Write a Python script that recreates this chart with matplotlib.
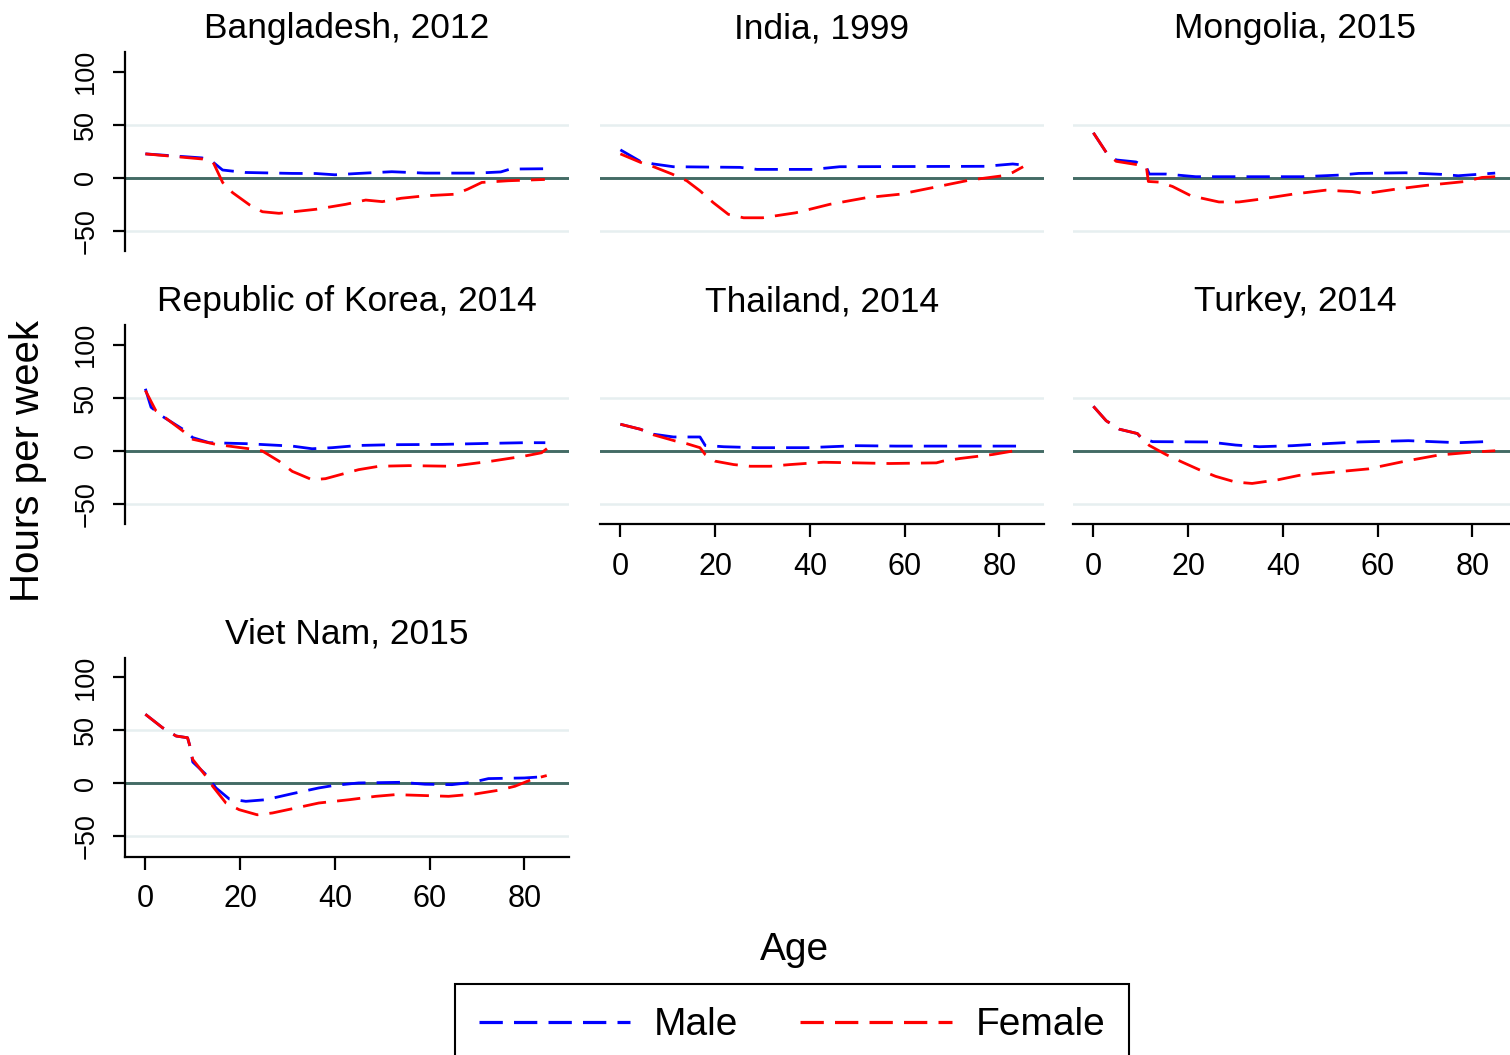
import matplotlib
matplotlib.use("Agg")
import matplotlib.pyplot as plt
from matplotlib.lines import Line2D

plt.rcParams['font.family'] = ['Liberation Sans', 'DejaVu Sans']

# ages / hours per week, one pair of lists per series
bgd_m_age = [0, 12, 14.3, 16.3, 21, 31, 36, 40, 45, 52, 59, 70, 75, 77, 84.3]
bgd_m = [22.5, 18.7, 14.6, 7.3, 5, 4.1, 4, 2.8, 4.1, 5.7, 4.4, 4.4, 5.5, 8.2, 8.5]
bgd_f_age = [0, 12, 14.3, 15, 16.3, 18.4, 22, 24.7, 28.2, 36, 42.3, 46.5, 50, 54, 59, 65.4, 68, 71, 76.6, 84.3]
bgd_f = [22.5, 17.7, 14.6, 8, -4.4, -14, -25.6, -32, -33.5, -29.7, -25, -21, -22.5, -19.3, -17, -15.5, -10.8, -4.4, -2.8, -1.6]

ind_m_age = [0, 4.2, 7, 11.2, 25.3, 28.8, 40.7, 46.3, 77, 82.8, 85]
ind_m = [26.3, 15.5, 13, 10.4, 9.8, 7.9, 7.9, 10.4, 10.8, 13, 12]
ind_f_age = [0, 4.2, 7, 10.9, 14, 16.8, 19.6, 22.8, 26, 30, 37, 44.2, 52, 59, 66, 73.7, 80.7, 82.8, 85]
ind_f = [22.5, 14.6, 10.4, 3.5, -2.8, -12.3, -23.4, -34.5, -37.7, -37.7, -33, -25, -18.7, -15.5, -9.2, -2.2, 1.9, 5, 10.4]

mng_m_age = [0, 2.7, 4.8, 9, 11.2, 11.8, 15.3, 21.6, 44, 51.8, 56, 65.8, 73.5, 77, 84.8]
mng_m = [42.4, 24, 16.8, 14.9, 9.8, 3.5, 3.5, 1, 1, 2.5, 4.1, 4.7, 3.2, 1.9, 4.4]
mng_f_age = [0, 2.7, 4.8, 9.3, 11.2, 11.6, 13.9, 16.7, 20.6, 26.5, 30.7, 35, 42, 49, 54.6, 57.4, 63.7, 70, 78.5, 82, 84.8]
mng_f = [42.4, 24, 15.5, 12.3, 9.8, -3.5, -4.1, -8.2, -17, -22.8, -22.8, -20.3, -15.5, -11.7, -13, -14.9, -10.8, -7.3, -3.5, 0.3, 1]

kor_m_age = [0, 1.2, 3.6, 7.9, 10, 13.5, 21.2, 31, 35.2, 39.4, 45, 52, 62.6, 73, 80, 84.4]
kor_m = [58.4, 41, 32.4, 20.3, 12.4, 7.6, 6.7, 4.4, 1.9, 2.9, 5, 5.7, 6, 7, 7.6, 7.6]
kor_f_age = [0, 2.2, 7.9, 10, 14.9, 21.9, 24.7, 28.2, 31, 35.2, 38, 45, 49.3, 55.6, 64.7, 73, 80, 83.6, 85]
kor_f = [56.8, 37.8, 18.7, 10.8, 6, 1.9, -0.3, -9.8, -19.4, -27.3, -26.3, -17.8, -14.6, -14, -14.6, -9.8, -5, -1.9, 2.9]

tha_m_age = [0, 4.2, 7, 11.2, 16.8, 17.9, 21.8, 28.8, 39.3, 49.8, 58.2, 83.5, 84.2]
tha_m = [25, 20.3, 15.6, 13, 13, 5, 3.8, 2.9, 2.9, 4.8, 4.4, 4.4, 5]
tha_f_age = [0, 4.2, 7, 11.6, 14, 16.8, 17.9, 20, 23.9, 27.4, 31.6, 35.8, 42.8, 56.8, 66.7, 68, 71.6, 78.6, 82.8]
tha_f = [25, 20.3, 15, 9.2, 6.7, 2.9, -3.5, -9.8, -13, -14.6, -14.6, -13, -10.8, -12, -11.4, -9.8, -7.3, -3.5, -0.3]

tur_m_age = [0, 2.7, 5.5, 9.3, 10, 12.5, 24.4, 30, 35, 42, 49, 56, 66.5, 77, 82.7]
tur_m = [41.9, 28.3, 20.3, 16.2, 12.4, 8.6, 8.3, 5.4, 3.8, 4.8, 6.7, 8.3, 9.5, 7.6, 8.6]
tur_f_age = [0, 2.7, 5.5, 9.3, 11.8, 15.3, 18.8, 22.3, 25.8, 30, 33.5, 39, 43.4, 51, 58, 65.8, 72.8, 79.9, 84.8]
tur_f = [41.9, 28.3, 20.3, 16.2, 5, -3.5, -10.8, -17.8, -24.1, -29.5, -30.8, -27.3, -23.2, -20, -17.1, -9.8, -4.1, -1.3, 0]

vnm_m_age = [0, 3.6, 6.5, 8.9, 9.4, 10, 12.8, 14.9, 17.7, 21.2, 25.4, 31, 36.6, 40, 45, 54, 59, 64.7, 69, 72.4, 80, 84.4]
vnm_m = [65, 52.4, 44.5, 42.9, 35, 20, 8.2, -4.4, -14.8, -17, -15.5, -9.8, -4.4, -1.9, 0.3, 0.9, -0.9, -1.3, 0.9, 4.4, 5, 6.3]
vnm_f_age = [0, 3.6, 6.5, 8.9, 9.4, 10, 12.8, 14.2, 17, 19.8, 23.6, 26.8, 31, 36.6, 43, 48.6, 52.8, 57.7, 64, 69.6, 74.5, 78, 81.5, 84.7]
vnm_f = [65, 52.4, 44.5, 42.9, 35, 22.4, 6.6, -2.8, -18.6, -24.9, -29.7, -28, -24, -18.6, -15.5, -12.3, -10.7, -11.4, -12.3, -10.1, -6.6, -2.8, 3.5, 7.3]

titles = ['Bangladesh, 2012', 'India, 1999', 'Mongolia, 2015', 'Republic of Korea, 2014',
          'Thailand, 2014', 'Turkey, 2014', 'Viet Nam, 2015']
x_ticks = [0, 20, 40, 60, 80]
y_ticks = [-50, 0, 50, 100]

series = [
    (bgd_m_age, bgd_m, bgd_f_age, bgd_f),
    (ind_m_age, ind_m, ind_f_age, ind_f),
    (mng_m_age, mng_m, mng_f_age, mng_f),
    (kor_m_age, kor_m, kor_f_age, kor_f),
    (tha_m_age, tha_m, tha_f_age, tha_f),
    (tur_m_age, tur_m, tur_f_age, tur_f),
    (vnm_m_age, vnm_m, vnm_f_age, vnm_f),
]

W, H = 1510, 1055
fig = plt.figure(figsize=(W / 100, H / 100), dpi=100)

col_left = [125, 600, 1073]
row_top = [52, 325, 657.5]
ax_w, ax_h = 444, 199
lw = 2.0
dash = (0, (8.4, 4))

for i, (title, (ma, mv, fa, fv)) in enumerate(zip(titles, series)):
    r, c = divmod(i, 3)
    ax = fig.add_axes([col_left[c] / W, 1 - (row_top[r] + ax_h) / H, ax_w / W, ax_h / H])
    ax.set_xlim(-4.3, 89.4)
    ax.set_ylim(-69, 118.5)
    for g in (50, -50):
        ax.axhline(g, color='#e6eff0', lw=1.8, zorder=0)
    ax.axhline(0, color='#436b65', lw=2.1, zorder=1)
    ax.plot(ma, mv, color='blue', lw=lw, ls=dash, zorder=2)
    ax.plot(fa, fv, color='red', lw=lw, ls=dash, zorder=3)
    ax.set_title(title, fontsize=25.5, pad=10)

    for s in ax.spines.values():
        s.set_visible(False)
        s.set_linewidth(1.6)

    show_y = c == 0
    show_x = (r == 1 and c > 0) or (r == 2)
    if show_y:
        ax.spines['left'].set_visible(True)
        ax.set_yticks(y_ticks)
        ax.tick_params(axis='y', length=8.6, width=1.6, pad=10, labelsize=19.5, labelrotation=90)
        for lab in ax.get_yticklabels():
            lab.set_va('center')
    else:
        ax.set_yticks([])
    if show_x:
        ax.spines['bottom'].set_visible(True)
        ax.set_xticks(x_ticks)
        ax.tick_params(axis='x', length=9.4, width=1.6, pad=10.5, labelsize=22)
    else:
        ax.set_xticks([])
    ax.patch.set_visible(False)

fig.text(28 / W, 1 - 461 / H, 'Hours per week', rotation=90, fontsize=29, ha='center', va='center')
fig.text(794 / W, 1 - 960 / H, 'Age', fontsize=28, ha='center', va='baseline')

handles = [Line2D([], [], color='blue', lw=2.3, ls=(0, (7.3, 3.5))),
           Line2D([], [], color='red', lw=2.3, ls=(0, (7.3, 3.5)))]
leg = fig.legend(handles, ['Male', 'Female'], loc='upper center',
                 bbox_to_anchor=(792 / W, 1 - 984 / H), ncol=2, fontsize=28,
                 frameon=True, fancybox=False, edgecolor='black', framealpha=1,
                 handlelength=3.9, handletextpad=0.6, columnspacing=1.6,
                 borderpad=0.6, borderaxespad=0)
leg.get_frame().set_linewidth(1.5)

fig.savefig('out.png', dpi=100, facecolor='white')
